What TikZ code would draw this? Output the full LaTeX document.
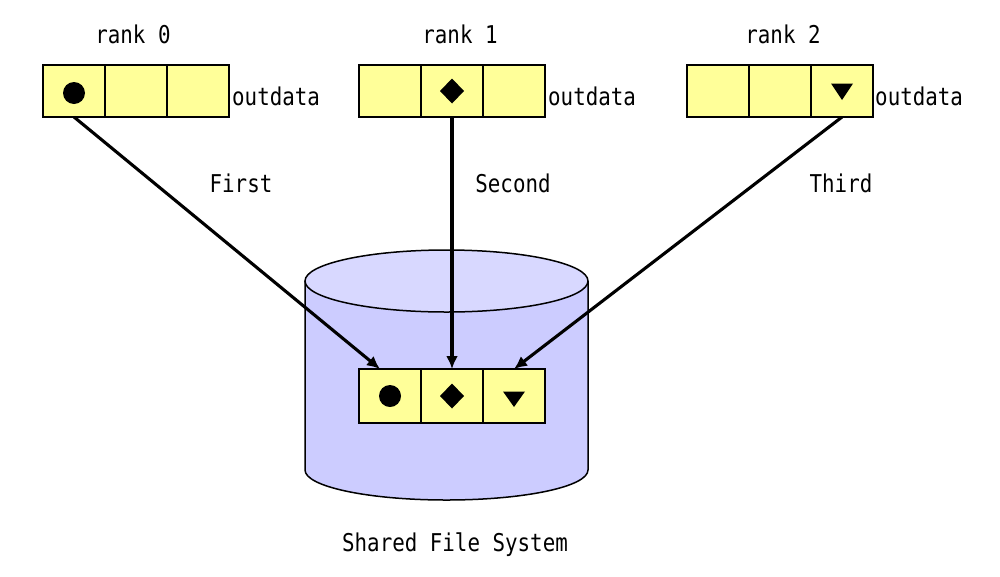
\documentclass[tikz,border=0pt]{standalone}
\usepackage{fontspec}
\newfontfamily\lblfont[FakeStretch=0.85]{DejaVu Sans Mono}
\usetikzlibrary{arrows.meta}
\definecolor{cellyellow}{HTML}{FFFF99}
\definecolor{cylbody}{HTML}{CCCCFF}
\definecolor{cyltop}{HTML}{D8D8FF}
\tikzset{
  cell/.style={draw=black, line width=1.3pt, fill=cellyellow, minimum width=62pt, minimum height=52pt, inner sep=0pt, outer sep=0pt},
  icell/.style={cell, minimum height=54pt},
  lbl/.style={font=\lblfont\fontsize{24.5}{26}\selectfont, inner sep=0pt, anchor=base},
  flow/.style={draw=black, line width=3.1pt, -{Latex[length=13pt,width=12pt]}},
  cyl/.style={draw=black, line width=1.5pt}
}
\begin{document}
\begin{tikzpicture}[x=1pt,y=-1pt]
\useasboundingbox[fill=white] (0,0) rectangle (1000,576);

% cylinder
\draw[cyl, fill=cylbody] (305,281) -- (305,470)
  arc[start angle=180, end angle=0, x radius=141.5, y radius=30] -- (588,281);
\draw[cyl, fill=cyltop] (446.5,281) ellipse[x radius=141.5, y radius=31];

% rank 0
\node[cell] (r0a) at (74,91) {};
\node[cell] (r0b) at (136,91) {};
\node[cell] (r0c) at (198,91) {};
% rank 1
\node[cell] (r1a) at (390,91) {};
\node[cell] (r1b) at (452,91) {};
\node[cell] (r1c) at (514,91) {};
% rank 2
\node[cell] (r2a) at (718,91) {};
\node[cell] (r2b) at (780,91) {};
\node[cell] (r2c) at (842,91) {};
% shared file
\node[icell] (ia) at (390,396) {};
\node[icell] (ib) at (452,396) {};
\node[icell] (ic) at (514,396) {};

% symbols
\fill[black] ([yshift=-2pt]r0a.center) circle[radius=11];
\fill[black, shift={(r1b.center)}] (0,-12.5) -- (12,0) -- (0,12.5) -- (-12,0) -- cycle;
\fill[black, shift={(r2c.center)}] (-11,-7.5) -- (11,-7.5) -- (0,9) -- cycle;
\fill[black] (ia.center) circle[radius=11];
\fill[black, shift={(ib.center)}] (0,-12.5) -- (12,0) -- (0,12.5) -- (-12,0) -- cycle;
\fill[black, shift={([yshift=-3pt]ic.center)}] (-11,-7.5) -- (11,-7.5) -- (0,8) -- cycle;

% labels
\node[lbl] (l0) at (133,43) {rank 0};
\node[lbl] (l1) at (460,43) {rank 1};
\node[lbl] (l2) at (783,43) {rank 2};
\node[lbl, anchor=base west] (o0) at (232,105) {outdata};
\node[lbl, anchor=base west] (o1) at (548,105) {outdata};
\node[lbl, anchor=base west] (o2) at (875,105) {outdata};
\node[lbl] (t1) at (241,192) {First};
\node[lbl] (t2) at (513,192) {Second};
\node[lbl] (t3) at (841,192) {Third};
\node[lbl] (sfs) at (455,551) {Shared File System};

% arrows
\draw[flow] (r0a.south) -- ([xshift=-10pt]ia.north);
\draw[flow] (r1b.south) -- (ib.north);
\draw[flow] (r2c.south) -- (ic.north);
\end{tikzpicture}
\end{document}
